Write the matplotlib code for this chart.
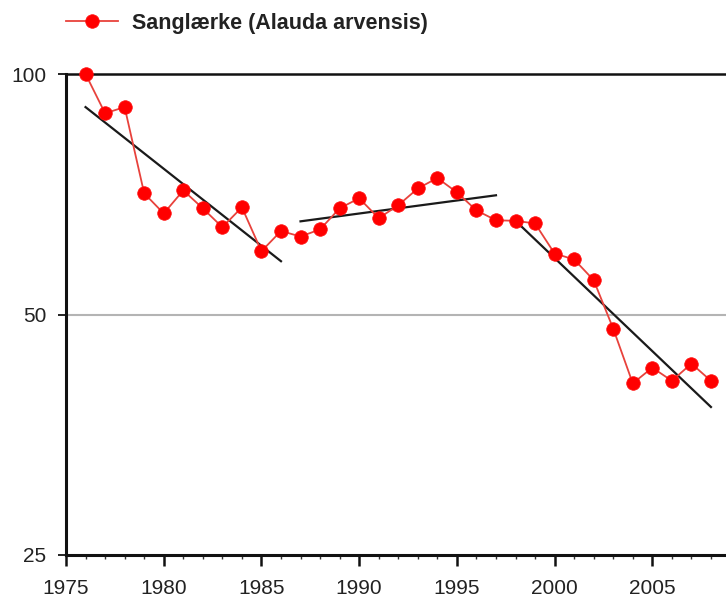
import matplotlib
matplotlib.use('Agg')
import matplotlib.pyplot as plt
from matplotlib.ticker import FixedLocator, NullLocator, MultipleLocator

plt.rcParams['font.family'] = ['Liberation Sans', 'DejaVu Sans']

years = list(range(1976, 2009))
index = [100, 89.3, 90.9, 70.9, 66.9, 71.5, 67.9, 64.3, 68.1, 60.0,
         63.6, 62.6, 63.9, 67.9, 69.9, 66.0, 68.5, 71.9, 74.1, 71.1,
         67.5, 65.6, 65.5, 65.0, 59.6, 58.6, 55.2, 48.0, 41.0, 42.9,
         41.3, 43.4, 41.3]

# trend segments (start year, end year, start value, end value)
trend_x = [(1976, 1986), (1987, 1997), (1998.2, 2008)]
trend_y = [(90.9, 58.3), (65.4, 70.5), (64.8, 38.3)]

label = 'Sanglærke (Alauda arvensis)'
yticks = [25, 50, 100]
xticks = [1975, 1980, 1985, 1990, 1995, 2000, 2005]

fig = plt.figure(figsize=(7.26, 5.97), dpi=100)
ax = fig.add_axes([66/726, 1 - 555/597, 1 - 66/726, (555 - 74)/597])

ax.axhline(50, color='#b4b4b4', lw=1.5, zorder=1)

for (x0, x1), (y0, y1) in zip(trend_x, trend_y):
    ax.plot([x0, x1], [y0, y1], color='#1a1a1a', lw=1.6, zorder=3)

ax.plot(years, index, color='#e8423c', lw=1.3, marker='o', ms=9.8,
        mfc='#ff0000', mec='#ff1010', mew=0.5, label=label, zorder=4,
        clip_on=False)

ax.set_yscale('log')
ax.set_ylim(25, 100)
ax.yaxis.set_major_locator(FixedLocator(yticks))
ax.yaxis.set_minor_locator(NullLocator())
ax.set_yticklabels([str(v) for v in yticks])

ax.set_xlim(1975, 2008.77)
ax.xaxis.set_major_locator(FixedLocator(xticks))
ax.xaxis.set_minor_locator(MultipleLocator(1))

ax.spines['right'].set_visible(False)
ax.spines['left'].set_linewidth(2.2)
ax.spines['bottom'].set_linewidth(2.2)
ax.spines['top'].set_linewidth(1.8)
for s in ax.spines.values():
    s.set_color('#111111')

ax.tick_params(axis='y', which='major', direction='out', length=6, width=1.3,
               labelsize=15, pad=8, colors='#111111', labelcolor='#222222')
ax.tick_params(axis='x', which='major', direction='out', length=8, width=1.8,
               labelsize=15, pad=9, colors='#111111', labelcolor='#222222')
ax.tick_params(axis='x', which='minor', direction='out', length=3, width=1.0,
               colors='#333333')

fig.legend(loc='center left', bbox_to_anchor=(66/726, 1 - 23/597),
           frameon=False, borderpad=0, borderaxespad=0, handlelength=2.4,
           handletextpad=0.65, prop={'size': 15.5, 'weight': 'bold'},
           labelcolor='#222222')

fig.savefig('out.png', dpi=100)
